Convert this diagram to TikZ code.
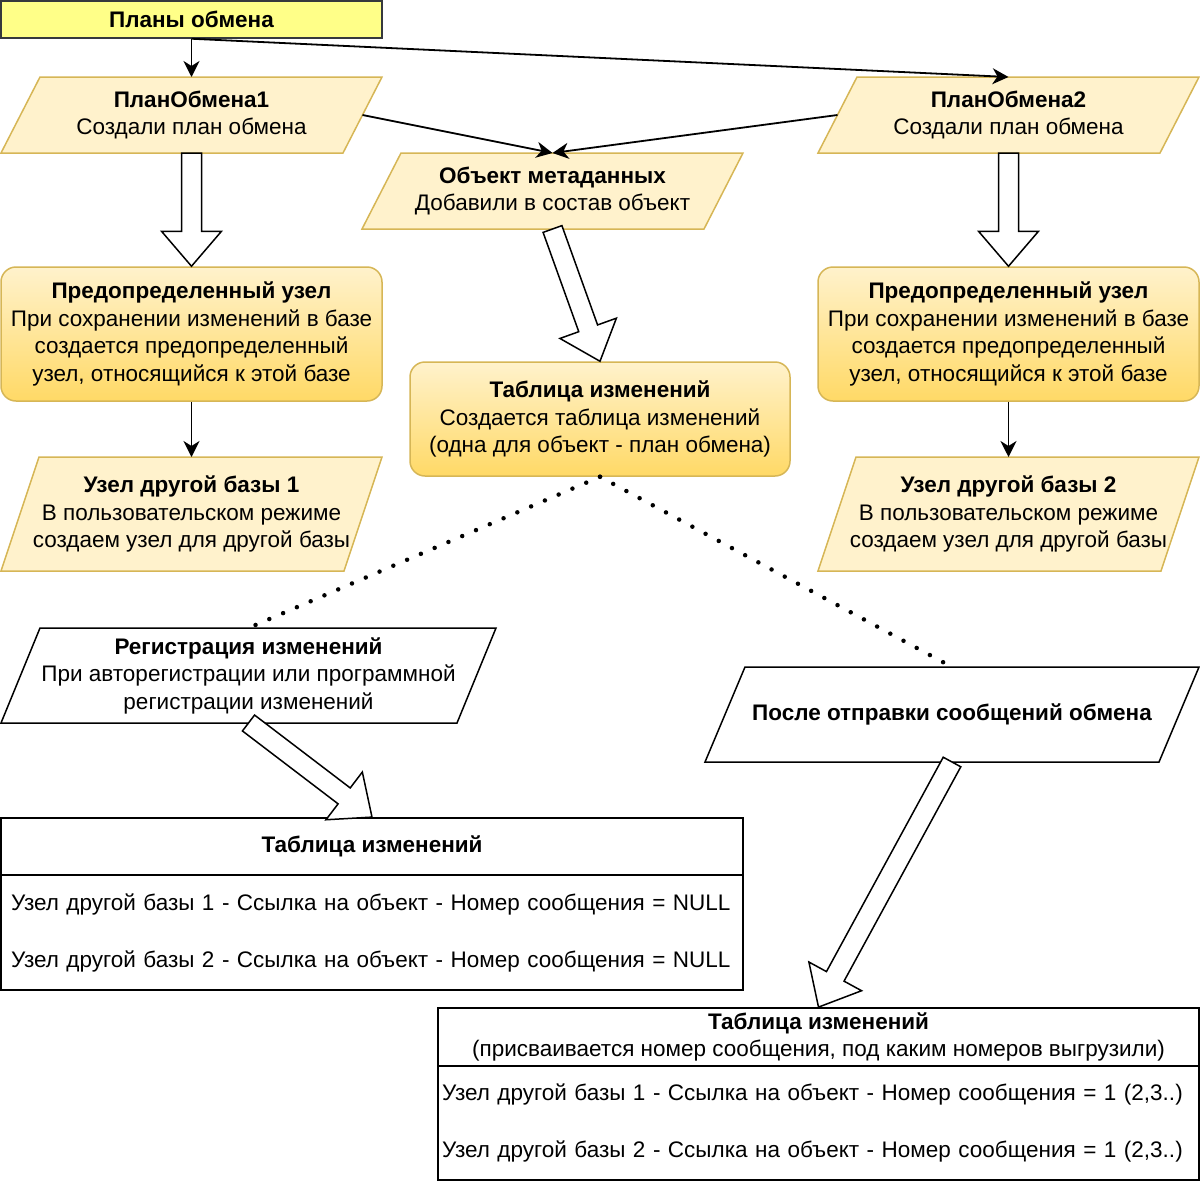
\documentclass[tikz,border=0pt]{standalone}
\usepackage{fontspec}
\setmainfont{Liberation Sans}
\usepackage{tikz}
\usetikzlibrary{arrows.meta, positioning, calc, backgrounds}
\definecolor{ZheltyjPlan}{HTML}{FFFF88}
\definecolor{KontPlan}   {HTML}{36393D}
\definecolor{KremFon}    {HTML}{FFF2CC}
\definecolor{ZolotoFon}  {HTML}{FFD966}
\definecolor{ZolotoKant} {HTML}{D6B656}
\tikzset{
  planbox/.style={draw=KontPlan, fill=ZheltyjPlan, line width=1.5pt, minimum width=381pt, minimum height=37pt, font=\fontsize{22.5}{27.5}\selectfont\bfseries},
  paratext/.style={align=center, inner sep=1pt, outer sep=0pt},
  gradbox/.style={draw=ZolotoKant, top color=KremFon, bottom color=ZolotoFon, rounded corners=15pt, line width=1.5pt, align=center, inner sep=1pt},
  tabhead/.style={draw=black, line width=1.8pt, align=center, inner sep=0pt},
  tabbody/.style={draw=black, line width=1.8pt, align=left, font=\fontsize{22.5}{57}\selectfont},
  conn/.style={-{Stealth[length=16pt, width=16pt, inset=5pt]}, line width=1.8pt},
  dots/.style={line width=4.5pt, dash pattern=on 0pt off 15pt, line cap=round},
  blockarr/.style={draw=black, fill=white, line width=1.5pt, line join=miter}
}
\begin{document}
\begin{tikzpicture}[x=1pt, y=-1pt, font=\fontsize{22.5}{27.5}\selectfont]
  \useasboundingbox (0,0) rectangle (1200,1181);
  % top row
  \node[planbox] (plans) at (191.5,19.5) {Планы обмена};
  \node[paratext, minimum width=381pt, minimum height=76pt] (po1) at (191.5,115)
    {\textbf{ПланОбмена1}\\Создали план обмена};
  \node[paratext, minimum width=381pt, minimum height=76pt] (po2) at (1008.5,115)
    {\textbf{ПланОбмена2}\\Создали план обмена};
  \node[paratext, minimum width=381pt, minimum height=76pt] (obj) at (552.5,191)
    {\textbf{Объект метаданных}\\Добавили в состав объект};
  % nodes of the bases
  \foreach \side/\xc in {1/191.5, 2/1008.5}{
    \node[gradbox, minimum width=381pt, minimum height=134pt] (pu\side) at (\xc,334)
      {\textbf{Предопределенный узел}\\При сохранении изменений в базе\\создается предопределенный\\узел, относящийся к этой базе};
    \node[paratext, minimum width=381pt, minimum height=114pt] (uz\side) at (\xc,514)
      {\textbf{Узел другой базы \side}\\В пользовательском режиме\\создаем узел для другой базы};
  }
  \node[gradbox, minimum width=380pt, minimum height=114pt] (tab) at (600,419)
    {\textbf{Таблица изменений}\\Создается таблица изменений\\(одна для объект - план обмена)};
  % registration
  \node[paratext, minimum width=495pt, minimum height=95pt] (reg) at (248.5,675.5)
    {\textbf{Регистрация изменений}\\При авторегистрации или программной\\регистрации изменений};
  \node[paratext, minimum width=494pt, minimum height=95pt] (aft) at (952,714.5)
    {\textbf{После отправки сообщений обмена}};
  % parallelogram outlines
  \begin{scope}[on background layer]
    \foreach \nd/\ext/\kant/\fon in {po1/39/ZolotoKant/KremFon, po2/39/ZolotoKant/KremFon, obj/39/ZolotoKant/KremFon,
        uz1/38/ZolotoKant/KremFon, uz2/38/ZolotoKant/KremFon, reg/39/black/white, aft/40/black/white}{
      \draw[draw=\kant, fill=\fon, line width=1.5pt] ([xshift=\ext pt]\nd.north west) -- (\nd.north east)
        -- ([xshift=-\ext pt]\nd.south east) -- (\nd.south west) -- cycle;
    }
  \end{scope}
  % tables
  \node[tabhead, minimum width=742pt, minimum height=57pt] (t1h) at (372,846.5) {\textbf{Таблица изменений}};
  \node[tabbody, below=-1.8pt of t1h, minimum height=115pt, inner xsep=10pt, text width=722pt] (t1b)
    {Узел другой базы 1 - Ссылка на объект - Номер сообщения = NULL\\Узел другой базы 2 - Ссылка на объект - Номер сообщения = NULL};
  \node[tabhead, minimum width=761pt, minimum height=58pt] (t2h) at (818.5,1037)
    {\textbf{Таблица изменений}\\(присваивается номер сообщения, под каким номеров выгрузили)};
  \node[tabbody, below=-1.8pt of t2h, minimum height=114pt, inner xsep=4pt, text width=753pt] (t2b)
    {Узел другой базы 1 - Ссылка на объект - Номер сообщения = 1 (2,3..)\\Узел другой базы 2 - Ссылка на объект - Номер сообщения = 1 (2,3..)};
  % connectors
  \draw[conn] (plans.south) -- (po1.north);
  \draw[conn] (plans.south) -- (po2.north);
  \draw[conn] ([xshift=-19.5pt]po1.east) -- (obj.north);
  \draw[conn] ([xshift=19.5pt]po2.west) -- (obj.north);
  \draw[conn] (pu1.south) -- (uz1.north);
  \draw[conn] (pu2.south) -- (uz2.north);
  \draw[dots] (tab.south) -- (reg.north);
  \draw[dots] (tab.south) -- (aft.north);
  % hollow arrows
  \foreach \src/\dst in {po1.south/pu1.north, po2.south/pu2.north, obj.south/tab.north, reg.south/t1h.north, aft.south/t2h.north}{
    \draw[blockarr] let \p1=($(\dst)!35pt!(\src)$) in
      ($(\src)!10pt!90:(\dst)$) -- ($(\p1)!10pt!90:(\dst)$) -- ($(\p1)!30pt!90:(\dst)$) -- (\dst)
      -- ($(\p1)!30pt!-90:(\dst)$) -- ($(\p1)!10pt!-90:(\dst)$) -- ($(\src)!10pt!-90:(\dst)$) -- cycle;
  }
\end{tikzpicture}
\end{document}
